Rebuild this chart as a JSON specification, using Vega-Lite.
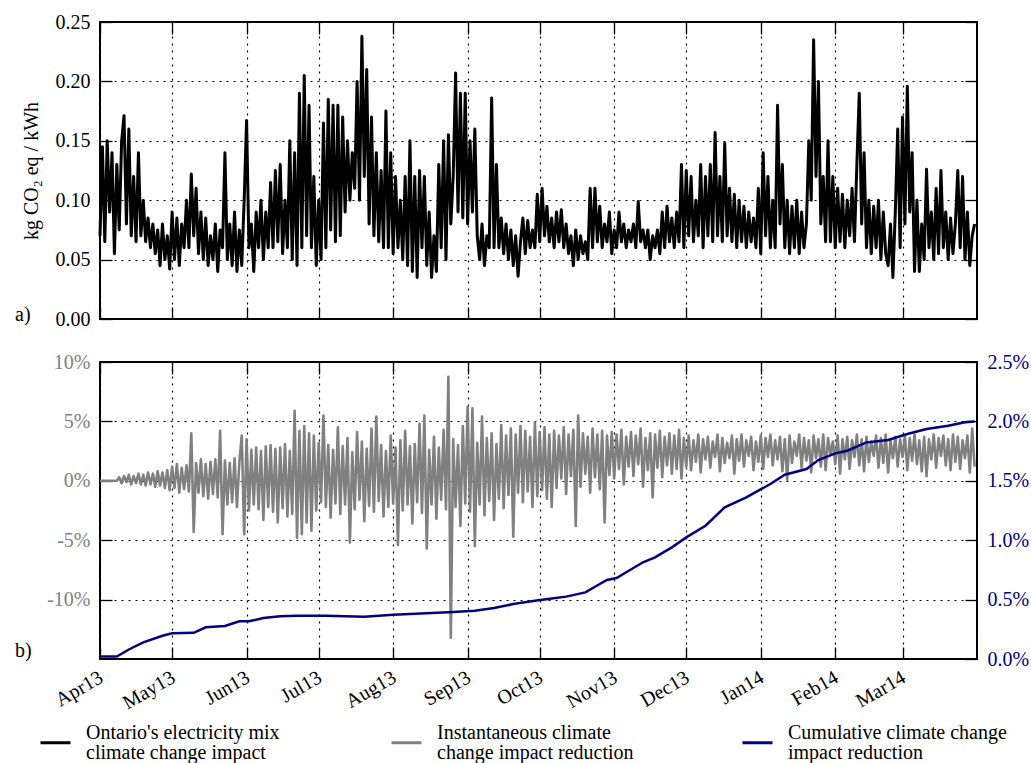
{
"$schema": "https://vega.github.io/schema/vega-lite/v6.json",
"background": "white",
"padding": {"left": 14, "top": 11, "right": 5, "bottom": 2},
"config": {
  "font": "Liberation Serif",
  "view": {"stroke": "black", "strokeWidth": 2},
  "title": {"fontSize": 20, "fontWeight": "normal", "color": "black"},
  "style": {"guide-label": {"lineHeight": 20}},
  "axis": {"labelFontSize": 20, "titleFontSize": 20, "titleFontWeight": "normal", "labelColor": "black", "titleColor": "black", "tickColor": "black", "tickSize": -12, "tickWidth": 1.3, "domain": false, "gridColor": "black", "gridDash": [2, 5], "gridWidth": 1.2, "gridOpacity": 1, "labelPadding": 22}
},
"spacing": 21,
"resolve": {"scale": {"color": "shared"}, "legend": {"color": "shared"}},
"datasets": {
"d": [
{"t":"2013-04-01","v":0.07,"g":0},{"t":"2013-04-02","v":0.145,"g":0},{"t":"2013-04-03","v":0.065,"g":0},{"t":"2013-04-04","v":0.15,"g":0},{"t":"2013-04-05","v":0.09,"g":0},{"t":"2013-04-06","v":0.14,"g":0},{"t":"2013-04-07","v":0.055,"g":0},{"t":"2013-04-08","v":0.13,"g":0},{"t":"2013-04-09","v":0.075,"g":0.3},{"t":"2013-04-10","v":0.15,"g":-0.2},{"t":"2013-04-11","v":0.171,"g":0.4},{"t":"2013-04-12","v":0.08,"g":-0.1},{"t":"2013-04-13","v":0.16,"g":0.5},{"t":"2013-04-14","v":0.07,"g":-0.3},{"t":"2013-04-15","v":0.12,"g":0.4},{"t":"2013-04-16","v":0.065,"g":-0.2},{"t":"2013-04-17","v":0.14,"g":0.6},{"t":"2013-04-18","v":0.07,"g":-0.3},{"t":"2013-04-19","v":0.10,"g":0.5},{"t":"2013-04-20","v":0.065,"g":-0.4},{"t":"2013-04-21","v":0.085,"g":0.7},{"t":"2013-04-22","v":0.06,"g":-0.3},{"t":"2013-04-23","v":0.08,"g":0.6},{"t":"2013-04-24","v":0.055,"g":-0.5},{"t":"2013-04-25","v":0.075,"g":0.8},{"t":"2013-04-26","v":0.045,"g":-0.4},{"t":"2013-04-27","v":0.08,"g":0.7},{"t":"2013-04-28","v":0.05,"g":-0.6},{"t":"2013-04-29","v":0.07,"g":0.9},{"t":"2013-04-30","v":0.042,"g":-0.8},
{"t":"2013-05-01","v":0.09,"g":1.2},{"t":"2013-05-02","v":0.05,"g":-0.6},{"t":"2013-05-03","v":0.085,"g":1.4},{"t":"2013-05-04","v":0.045,"g":-1.0},{"t":"2013-05-05","v":0.08,"g":1.1},{"t":"2013-05-06","v":0.06,"g":-0.7},{"t":"2013-05-07","v":0.10,"g":1.3},{"t":"2013-05-08","v":0.06,"g":-0.9},{"t":"2013-05-09","v":0.122,"g":4.0},{"t":"2013-05-10","v":0.07,"g":-4.3},{"t":"2013-05-11","v":0.11,"g":1.5},{"t":"2013-05-12","v":0.055,"g":-1.0},{"t":"2013-05-13","v":0.09,"g":1.8},{"t":"2013-05-14","v":0.05,"g":-1.3},{"t":"2013-05-15","v":0.085,"g":1.4},{"t":"2013-05-16","v":0.045,"g":-1.5},{"t":"2013-05-17","v":0.07,"g":1.6},{"t":"2013-05-18","v":0.05,"g":-1.1},{"t":"2013-05-19","v":0.08,"g":1.8},{"t":"2013-05-20","v":0.04,"g":-1.4},{"t":"2013-05-21","v":0.075,"g":4.2},{"t":"2013-05-22","v":0.06,"g":-4.5},{"t":"2013-05-23","v":0.14,"g":1.7},{"t":"2013-05-24","v":0.05,"g":-2.0},{"t":"2013-05-25","v":0.08,"g":1.5},{"t":"2013-05-26","v":0.045,"g":-1.8},{"t":"2013-05-27","v":0.09,"g":1.9},{"t":"2013-05-28","v":0.04,"g":-2.2},{"t":"2013-05-29","v":0.075,"g":1.6},{"t":"2013-05-30","v":0.045,"g":3.8},{"t":"2013-05-31","v":0.10,"g":-4.5},
{"t":"2013-06-01","v":0.167,"g":3.5},{"t":"2013-06-02","v":0.06,"g":-2.5},{"t":"2013-06-03","v":0.08,"g":2.6},{"t":"2013-06-04","v":0.04,"g":-2.0},{"t":"2013-06-05","v":0.09,"g":2.8},{"t":"2013-06-06","v":0.06,"g":-2.4},{"t":"2013-06-07","v":0.10,"g":2.5},{"t":"2013-06-08","v":0.05,"g":-3.3},{"t":"2013-06-09","v":0.09,"g":2.9},{"t":"2013-06-10","v":0.06,"g":-2.2},{"t":"2013-06-11","v":0.115,"g":3.0},{"t":"2013-06-12","v":0.06,"g":-2.6},{"t":"2013-06-13","v":0.125,"g":2.7},{"t":"2013-06-14","v":0.065,"g":-3.5},{"t":"2013-06-15","v":0.13,"g":2.8},{"t":"2013-06-16","v":0.055,"g":-2.3},{"t":"2013-06-17","v":0.10,"g":3.1},{"t":"2013-06-18","v":0.06,"g":-3.0},{"t":"2013-06-19","v":0.15,"g":2.5},{"t":"2013-06-20","v":0.05,"g":-2.8},{"t":"2013-06-21","v":0.14,"g":5.9},{"t":"2013-06-22","v":0.045,"g":-4.8},{"t":"2013-06-23","v":0.19,"g":4.2},{"t":"2013-06-24","v":0.06,"g":-4.5},{"t":"2013-06-25","v":0.205,"g":4.6},{"t":"2013-06-26","v":0.07,"g":-3.5},{"t":"2013-06-27","v":0.18,"g":4.0},{"t":"2013-06-28","v":0.06,"g":-4.2},{"t":"2013-06-29","v":0.12,"g":3.8},{"t":"2013-06-30","v":0.045,"g":-2.5},
{"t":"2013-07-01","v":0.10,"g":3.2},{"t":"2013-07-02","v":0.05,"g":-1.8},{"t":"2013-07-03","v":0.165,"g":5.5},{"t":"2013-07-04","v":0.06,"g":-2.2},{"t":"2013-07-05","v":0.185,"g":3.0},{"t":"2013-07-06","v":0.075,"g":-3.1},{"t":"2013-07-07","v":0.18,"g":2.6},{"t":"2013-07-08","v":0.065,"g":-1.9},{"t":"2013-07-09","v":0.18,"g":4.5},{"t":"2013-07-10","v":0.07,"g":-2.8},{"t":"2013-07-11","v":0.17,"g":2.9},{"t":"2013-07-12","v":0.09,"g":-2.0},{"t":"2013-07-13","v":0.15,"g":3.6},{"t":"2013-07-14","v":0.10,"g":-5.2},{"t":"2013-07-15","v":0.14,"g":2.4},{"t":"2013-07-16","v":0.11,"g":-2.4},{"t":"2013-07-17","v":0.20,"g":4.1},{"t":"2013-07-18","v":0.10,"g":-1.6},{"t":"2013-07-19","v":0.238,"g":3.3},{"t":"2013-07-20","v":0.12,"g":-3.4},{"t":"2013-07-21","v":0.21,"g":2.7},{"t":"2013-07-22","v":0.08,"g":-2.1},{"t":"2013-07-23","v":0.17,"g":4.4},{"t":"2013-07-24","v":0.07,"g":-2.6},{"t":"2013-07-25","v":0.14,"g":5.4},{"t":"2013-07-26","v":0.065,"g":-1.7},{"t":"2013-07-27","v":0.125,"g":3.0},{"t":"2013-07-28","v":0.06,"g":-3.0},{"t":"2013-07-29","v":0.175,"g":2.5},{"t":"2013-07-30","v":0.06,"g":-2.2},{"t":"2013-07-31","v":0.14,"g":3.8},
{"t":"2013-08-01","v":0.055,"g":-1.9},{"t":"2013-08-02","v":0.12,"g":2.8},{"t":"2013-08-03","v":0.06,"g":-5.4},{"t":"2013-08-04","v":0.10,"g":3.4},{"t":"2013-08-05","v":0.05,"g":-2.5},{"t":"2013-08-06","v":0.12,"g":4.2},{"t":"2013-08-07","v":0.045,"g":-2.0},{"t":"2013-08-08","v":0.15,"g":2.9},{"t":"2013-08-09","v":0.04,"g":-3.6},{"t":"2013-08-10","v":0.12,"g":3.1},{"t":"2013-08-11","v":0.035,"g":-1.8},{"t":"2013-08-12","v":0.125,"g":4.8},{"t":"2013-08-13","v":0.06,"g":-2.7},{"t":"2013-08-14","v":0.12,"g":5.5},{"t":"2013-08-15","v":0.045,"g":-5.7},{"t":"2013-08-16","v":0.09,"g":2.6},{"t":"2013-08-17","v":0.035,"g":-2.0},{"t":"2013-08-18","v":0.07,"g":3.7},{"t":"2013-08-19","v":0.04,"g":-3.2},{"t":"2013-08-20","v":0.13,"g":2.8},{"t":"2013-08-21","v":0.06,"g":-1.6},{"t":"2013-08-22","v":0.15,"g":4.3},{"t":"2013-08-23","v":0.05,"g":-2.4},{"t":"2013-08-24","v":0.155,"g":8.75},{"t":"2013-08-25","v":0.08,"g":-13.2},{"t":"2013-08-26","v":0.12,"g":3.5},{"t":"2013-08-27","v":0.207,"g":-2.2},{"t":"2013-08-28","v":0.09,"g":3.0},{"t":"2013-08-29","v":0.19,"g":-3.8},{"t":"2013-08-30","v":0.085,"g":4.6},{"t":"2013-08-31","v":0.19,"g":-1.9},
{"t":"2013-09-01","v":0.08,"g":6.2},{"t":"2013-09-02","v":0.15,"g":-2.6},{"t":"2013-09-03","v":0.09,"g":6.1},{"t":"2013-09-04","v":0.16,"g":-5.5},{"t":"2013-09-05","v":0.07,"g":3.2},{"t":"2013-09-06","v":0.05,"g":-2.0},{"t":"2013-09-07","v":0.08,"g":5.4},{"t":"2013-09-08","v":0.045,"g":-2.9},{"t":"2013-09-09","v":0.07,"g":3.6},{"t":"2013-09-10","v":0.06,"g":-1.7},{"t":"2013-09-11","v":0.186,"g":4.0},{"t":"2013-09-12","v":0.06,"g":-3.3},{"t":"2013-09-13","v":0.13,"g":3.1},{"t":"2013-09-14","v":0.06,"g":-1.5},{"t":"2013-09-15","v":0.085,"g":4.7},{"t":"2013-09-16","v":0.055,"g":-2.3},{"t":"2013-09-17","v":0.08,"g":3.8},{"t":"2013-09-18","v":0.05,"g":-1.2},{"t":"2013-09-19","v":0.075,"g":4.4},{"t":"2013-09-20","v":0.045,"g":-4.7},{"t":"2013-09-21","v":0.07,"g":3.9},{"t":"2013-09-22","v":0.036,"g":-1.0},{"t":"2013-09-23","v":0.065,"g":4.6},{"t":"2013-09-24","v":0.085,"g":-1.8},{"t":"2013-09-25","v":0.055,"g":4.2},{"t":"2013-09-26","v":0.083,"g":-0.9},{"t":"2013-09-27","v":0.06,"g":3.7},{"t":"2013-09-28","v":0.075,"g":-2.2},{"t":"2013-09-29","v":0.06,"g":4.9},{"t":"2013-09-30","v":0.105,"g":-1.3},
{"t":"2013-10-01","v":0.065,"g":4.1},{"t":"2013-10-02","v":0.11,"g":-0.8},{"t":"2013-10-03","v":0.07,"g":4.5},{"t":"2013-10-04","v":0.095,"g":-1.5},{"t":"2013-10-05","v":0.065,"g":3.9},{"t":"2013-10-06","v":0.085,"g":-2.2},{"t":"2013-10-07","v":0.06,"g":4.2},{"t":"2013-10-08","v":0.09,"g":-0.6},{"t":"2013-10-09","v":0.065,"g":3.8},{"t":"2013-10-10","v":0.092,"g":0.2},{"t":"2013-10-11","v":0.06,"g":4.5},{"t":"2013-10-12","v":0.08,"g":-1.1},{"t":"2013-10-13","v":0.055,"g":3.9},{"t":"2013-10-14","v":0.07,"g":0.4},{"t":"2013-10-15","v":0.045,"g":4.3},{"t":"2013-10-16","v":0.075,"g":-3.8},{"t":"2013-10-17","v":0.05,"g":5.5},{"t":"2013-10-18","v":0.07,"g":-0.5},{"t":"2013-10-19","v":0.055,"g":4.0},{"t":"2013-10-20","v":0.065,"g":0.6},{"t":"2013-10-21","v":0.05,"g":3.7},{"t":"2013-10-22","v":0.11,"g":-1.0},{"t":"2013-10-23","v":0.06,"g":4.4},{"t":"2013-10-24","v":0.11,"g":0.3},{"t":"2013-10-25","v":0.065,"g":3.9},{"t":"2013-10-26","v":0.095,"g":-0.7},{"t":"2013-10-27","v":0.06,"g":4.2},{"t":"2013-10-28","v":0.08,"g":-3.5},{"t":"2013-10-29","v":0.065,"g":3.8},{"t":"2013-10-30","v":0.09,"g":0.5},{"t":"2013-10-31","v":0.055,"g":4.1},
{"t":"2013-11-01","v":0.075,"g":0.2},{"t":"2013-11-02","v":0.06,"g":3.9},{"t":"2013-11-03","v":0.09,"g":1.0},{"t":"2013-11-04","v":0.065,"g":4.3},{"t":"2013-11-05","v":0.08,"g":-0.3},{"t":"2013-11-06","v":0.06,"g":3.7},{"t":"2013-11-07","v":0.075,"g":1.2},{"t":"2013-11-08","v":0.065,"g":4.1},{"t":"2013-11-09","v":0.08,"g":0.4},{"t":"2013-11-10","v":0.06,"g":3.8},{"t":"2013-11-11","v":0.099,"g":1.4},{"t":"2013-11-12","v":0.065,"g":4.4},{"t":"2013-11-13","v":0.075,"g":-0.5},{"t":"2013-11-14","v":0.06,"g":3.6},{"t":"2013-11-15","v":0.075,"g":0.9},{"t":"2013-11-16","v":0.05,"g":4.0},{"t":"2013-11-17","v":0.07,"g":-1.4},{"t":"2013-11-18","v":0.06,"g":3.9},{"t":"2013-11-19","v":0.075,"g":1.1},{"t":"2013-11-20","v":0.055,"g":4.2},{"t":"2013-11-21","v":0.09,"g":0.3},{"t":"2013-11-22","v":0.06,"g":3.7},{"t":"2013-11-23","v":0.095,"g":1.3},{"t":"2013-11-24","v":0.065,"g":4.0},{"t":"2013-11-25","v":0.085,"g":0.6},{"t":"2013-11-26","v":0.06,"g":3.8},{"t":"2013-11-27","v":0.09,"g":1.0},{"t":"2013-11-28","v":0.065,"g":4.3},{"t":"2013-11-29","v":0.13,"g":0.2},{"t":"2013-11-30","v":0.06,"g":3.6},
{"t":"2013-12-01","v":0.125,"g":1.2},{"t":"2013-12-02","v":0.07,"g":3.8},{"t":"2013-12-03","v":0.12,"g":0.9},{"t":"2013-12-04","v":0.065,"g":3.4},{"t":"2013-12-05","v":0.1,"g":1.6},{"t":"2013-12-06","v":0.07,"g":3.9},{"t":"2013-12-07","v":0.13,"g":0.7},{"t":"2013-12-08","v":0.06,"g":3.5},{"t":"2013-12-09","v":0.12,"g":1.8},{"t":"2013-12-10","v":0.07,"g":3.7},{"t":"2013-12-11","v":0.13,"g":1.1},{"t":"2013-12-12","v":0.065,"g":3.3},{"t":"2013-12-13","v":0.157,"g":2.0},{"t":"2013-12-14","v":0.07,"g":3.9},{"t":"2013-12-15","v":0.12,"g":0.8},{"t":"2013-12-16","v":0.065,"g":3.6},{"t":"2013-12-17","v":0.148,"g":1.5},{"t":"2013-12-18","v":0.07,"g":3.2},{"t":"2013-12-19","v":0.11,"g":1.9},{"t":"2013-12-20","v":0.065,"g":3.8},{"t":"2013-12-21","v":0.105,"g":0.6},{"t":"2013-12-22","v":0.06,"g":3.5},{"t":"2013-12-23","v":0.1,"g":1.7},{"t":"2013-12-24","v":0.065,"g":3.9},{"t":"2013-12-25","v":0.095,"g":1.2},{"t":"2013-12-26","v":0.06,"g":3.4},{"t":"2013-12-27","v":0.09,"g":2.1},{"t":"2013-12-28","v":0.065,"g":3.7},{"t":"2013-12-29","v":0.085,"g":0.9},{"t":"2013-12-30","v":0.06,"g":3.3},{"t":"2013-12-31","v":0.11,"g":1.6},
{"t":"2014-01-01","v":0.055,"g":3.8},{"t":"2014-01-02","v":0.14,"g":1.0},{"t":"2014-01-03","v":0.07,"g":3.6},{"t":"2014-01-04","v":0.12,"g":2.0},{"t":"2014-01-05","v":0.06,"g":3.9},{"t":"2014-01-06","v":0.1,"g":1.3},{"t":"2014-01-07","v":0.06,"g":3.4},{"t":"2014-01-08","v":0.18,"g":1.8},{"t":"2014-01-09","v":0.08,"g":3.7},{"t":"2014-01-10","v":0.13,"g":0.8},{"t":"2014-01-11","v":0.06,"g":3.5},{"t":"2014-01-12","v":0.1,"g":0.1},{"t":"2014-01-13","v":0.055,"g":3.8},{"t":"2014-01-14","v":0.095,"g":1.5},{"t":"2014-01-15","v":0.06,"g":3.3},{"t":"2014-01-16","v":0.1,"g":2.1},{"t":"2014-01-17","v":0.055,"g":3.9},{"t":"2014-01-18","v":0.09,"g":1.1},{"t":"2014-01-19","v":0.06,"g":3.6},{"t":"2014-01-20","v":0.08,"g":1.7},{"t":"2014-01-21","v":0.15,"g":3.4},{"t":"2014-01-22","v":0.1,"g":0.7},{"t":"2014-01-23","v":0.235,"g":3.8},{"t":"2014-01-24","v":0.12,"g":1.9},{"t":"2014-01-25","v":0.2,"g":3.5},{"t":"2014-01-26","v":0.08,"g":1.2},{"t":"2014-01-27","v":0.12,"g":3.9},{"t":"2014-01-28","v":0.065,"g":0.9},{"t":"2014-01-29","v":0.15,"g":3.6},{"t":"2014-01-30","v":0.065,"g":2.2},{"t":"2014-01-31","v":0.12,"g":3.3},
{"t":"2014-02-01","v":0.06,"g":1.4},{"t":"2014-02-02","v":0.11,"g":3.8},{"t":"2014-02-03","v":0.065,"g":0.6},{"t":"2014-02-04","v":0.105,"g":3.5},{"t":"2014-02-05","v":0.06,"g":1.8},{"t":"2014-02-06","v":0.1,"g":3.7},{"t":"2014-02-07","v":0.07,"g":1.0},{"t":"2014-02-08","v":0.11,"g":3.4},{"t":"2014-02-09","v":0.065,"g":2.0},{"t":"2014-02-10","v":0.13,"g":3.9},{"t":"2014-02-11","v":0.19,"g":1.3},{"t":"2014-02-12","v":0.08,"g":3.5},{"t":"2014-02-13","v":0.14,"g":0.8},{"t":"2014-02-14","v":0.06,"g":3.7},{"t":"2014-02-15","v":0.1,"g":1.6},{"t":"2014-02-16","v":0.055,"g":3.3},{"t":"2014-02-17","v":0.095,"g":2.1},{"t":"2014-02-18","v":0.06,"g":3.8},{"t":"2014-02-19","v":0.1,"g":1.1},{"t":"2014-02-20","v":0.05,"g":3.6},{"t":"2014-02-21","v":0.09,"g":1.5},{"t":"2014-02-22","v":0.055,"g":3.9},{"t":"2014-02-23","v":0.045,"g":0.7},{"t":"2014-02-24","v":0.08,"g":3.4},{"t":"2014-02-25","v":0.035,"g":1.9},{"t":"2014-02-26","v":0.09,"g":3.7},{"t":"2014-02-27","v":0.16,"g":1.2},{"t":"2014-02-28","v":0.06,"g":3.5},
{"t":"2014-03-01","v":0.17,"g":2.0},{"t":"2014-03-02","v":0.08,"g":3.8},{"t":"2014-03-03","v":0.196,"g":0.9},{"t":"2014-03-04","v":0.09,"g":3.6},{"t":"2014-03-05","v":0.14,"g":1.7},{"t":"2014-03-06","v":0.04,"g":3.9},{"t":"2014-03-07","v":0.1,"g":1.4},{"t":"2014-03-08","v":0.04,"g":3.4},{"t":"2014-03-09","v":0.08,"g":0.8},{"t":"2014-03-10","v":0.05,"g":3.7},{"t":"2014-03-11","v":0.126,"g":0.4},{"t":"2014-03-12","v":0.06,"g":3.5},{"t":"2014-03-13","v":0.09,"g":1.8},{"t":"2014-03-14","v":0.05,"g":3.9},{"t":"2014-03-15","v":0.11,"g":1.1},{"t":"2014-03-16","v":0.055,"g":3.6},{"t":"2014-03-17","v":0.125,"g":2.1},{"t":"2014-03-18","v":0.06,"g":3.8},{"t":"2014-03-19","v":0.09,"g":1.3},{"t":"2014-03-20","v":0.05,"g":3.5},{"t":"2014-03-21","v":0.085,"g":0.9},{"t":"2014-03-22","v":0.055,"g":3.9},{"t":"2014-03-23","v":0.08,"g":1.6},{"t":"2014-03-24","v":0.125,"g":3.7},{"t":"2014-03-25","v":0.06,"g":1.0},{"t":"2014-03-26","v":0.12,"g":3.4},{"t":"2014-03-27","v":0.05,"g":1.9},{"t":"2014-03-28","v":0.09,"g":3.8},{"t":"2014-03-29","v":0.045,"g":0.7},{"t":"2014-03-30","v":0.07,"g":4.4},{"t":"2014-03-31","v":0.08,"g":1.2}
],
"c": [
{"t":"2013-04-01","c":0.02},{"t":"2013-04-08","c":0.02},{"t":"2013-04-13","c":0.08},{"t":"2013-04-19","c":0.14},{"t":"2013-04-27","c":0.196},{"t":"2013-05-01","c":0.216},{"t":"2013-05-10","c":0.22},{"t":"2013-05-15","c":0.267},{"t":"2013-05-23","c":0.278},{"t":"2013-05-29","c":0.317},{"t":"2013-06-02","c":0.317},{"t":"2013-06-08","c":0.345},{"t":"2013-06-15","c":0.36},{"t":"2013-06-22","c":0.365},{"t":"2013-07-04","c":0.365},{"t":"2013-07-20","c":0.355},{"t":"2013-08-01","c":0.373},{"t":"2013-08-24","c":0.393},{"t":"2013-09-04","c":0.407},{"t":"2013-09-12","c":0.429},{"t":"2013-09-20","c":0.463},{"t":"2013-09-29","c":0.491},{"t":"2013-10-06","c":0.51},{"t":"2013-10-12","c":0.525},{"t":"2013-10-20","c":0.561},{"t":"2013-10-26","c":0.631},{"t":"2013-10-29","c":0.665},{"t":"2013-11-02","c":0.682},{"t":"2013-11-06","c":0.73},{"t":"2013-11-13","c":0.814},{"t":"2013-11-18","c":0.856},{"t":"2013-11-25","c":0.94},{"t":"2013-12-01","c":1.024},{"t":"2013-12-09","c":1.122},{"t":"2013-12-17","c":1.277},{"t":"2013-12-26","c":1.361},{"t":"2013-12-31","c":1.417},{"t":"2014-01-05","c":1.473},{"t":"2014-01-11","c":1.551},{"t":"2014-01-20","c":1.599},{"t":"2014-01-25","c":1.675},{"t":"2014-02-01","c":1.731},{"t":"2014-02-06","c":1.753},{"t":"2014-02-14","c":1.823},{"t":"2014-02-23","c":1.843},{"t":"2014-03-03","c":1.894},{"t":"2014-03-11","c":1.936},{"t":"2014-03-20","c":1.964},{"t":"2014-03-27","c":1.992},{"t":"2014-03-31","c":2.0}
]
},
"vconcat": [
{
  "width": 877, "height": 297,
  "title": {"text": "a)", "orient": "bottom", "anchor": "start", "frame": "group", "dx": -85, "dy": -24, "offset": 0},
  "layer": [
    {"data": {"name": "d"}, "mark": {"type": "line", "strokeWidth": 3, "strokeJoin": "round"},
     "encoding": {
       "x": {"field": "t", "type": "temporal",
             "scale": {"type": "utc", "domain": [{"year": 2013, "month": 4, "date": 1, "utc": true}, {"year": 2014, "month": 4, "date": 1, "utc": true}]},
             "axis": {"orient": "bottom", "labels": false, "grid": true, "title": null,
                      "values": [{"year":2013,"month":4,"date":1,"utc":true},{"year":2013,"month":5,"date":1,"utc":true},{"year":2013,"month":6,"date":1,"utc":true},{"year":2013,"month":7,"date":1,"utc":true},{"year":2013,"month":8,"date":1,"utc":true},{"year":2013,"month":9,"date":1,"utc":true},{"year":2013,"month":10,"date":1,"utc":true},{"year":2013,"month":11,"date":1,"utc":true},{"year":2013,"month":12,"date":1,"utc":true},{"year":2014,"month":1,"date":1,"utc":true},{"year":2014,"month":2,"date":1,"utc":true},{"year":2014,"month":3,"date":1,"utc":true}]}},
       "y": {"field": "v", "type": "quantitative", "scale": {"domain": [0, 0.25]},
             "axis": {"orient": "left", "values": [0, 0.05, 0.1, 0.15, 0.2, 0.25], "format": ".2f", "title": "kg CO₂ eq / kWh", "titlePadding": 14, "grid": true}},
       "color": {"datum": "Ontario's electricity mix\nclimate change impact",
                 "scale": {"domain": ["Ontario's electricity mix\nclimate change impact", "Instantaneous climate\nchange impact reduction", "Cumulative climate change\nimpact reduction"], "range": ["#000000", "#808080", "#000080"]},
                 "legend": {"orient": "none", "legendX": -61, "legendY": 694, "direction": "horizontal", "columns": 3, "gridAlign": "all", "columnPadding": 80, "symbolType": "M-1,0.667H1", "symbolSize": 900, "symbolStrokeWidth": 3, "labelFontSize": 20, "labelOffset": 14, "labelLimit": 0, "labelExpr": "split(datum.label, '\\n')", "title": null}}
     }},
    {"data": {"name": "d"}, "mark": {"type": "line", "opacity": 0},
     "encoding": {
       "x": {"field": "t", "type": "temporal",
             "scale": {"type": "utc", "domain": [{"year": 2013, "month": 4, "date": 1, "utc": true}, {"year": 2014, "month": 4, "date": 1, "utc": true}]},
             "axis": {"orient": "top", "labels": false, "grid": false, "title": null,
                      "values": [{"year":2013,"month":4,"date":1,"utc":true},{"year":2013,"month":5,"date":1,"utc":true},{"year":2013,"month":6,"date":1,"utc":true},{"year":2013,"month":7,"date":1,"utc":true},{"year":2013,"month":8,"date":1,"utc":true},{"year":2013,"month":9,"date":1,"utc":true},{"year":2013,"month":10,"date":1,"utc":true},{"year":2013,"month":11,"date":1,"utc":true},{"year":2013,"month":12,"date":1,"utc":true},{"year":2014,"month":1,"date":1,"utc":true},{"year":2014,"month":2,"date":1,"utc":true},{"year":2014,"month":3,"date":1,"utc":true}]}},
       "y": {"field": "v", "type": "quantitative", "scale": {"domain": [0, 0.25]},
             "axis": {"orient": "right", "labels": false, "grid": false, "title": null, "values": [0, 0.05, 0.1, 0.15, 0.2, 0.25]}}
     }}
  ],
  "resolve": {"axis": {"x": "independent", "y": "independent"}}
},
{
  "width": 877, "height": 297,
  "title": {"text": "b)", "orient": "bottom", "anchor": "start", "frame": "group", "dx": -85, "dy": -72, "offset": 0},
  "layer": [
    {"data": {"name": "d"}, "mark": {"type": "line", "strokeWidth": 2.6, "strokeJoin": "round"},
     "encoding": {
       "x": {"field": "t", "type": "temporal",
             "scale": {"type": "utc", "domain": [{"year": 2013, "month": 4, "date": 1, "utc": true}, {"year": 2014, "month": 4, "date": 1, "utc": true}]},
             "axis": {"orient": "bottom", "grid": true, "title": null, "labelExpr": "utcFormat(datum.value, '%b%y')", "labelAngle": -30, "labelAlign": "right", "labelBaseline": "top", "labelPadding": 20, "labelOffset": -4,
                      "values": [{"year":2013,"month":4,"date":1,"utc":true},{"year":2013,"month":5,"date":1,"utc":true},{"year":2013,"month":6,"date":1,"utc":true},{"year":2013,"month":7,"date":1,"utc":true},{"year":2013,"month":8,"date":1,"utc":true},{"year":2013,"month":9,"date":1,"utc":true},{"year":2013,"month":10,"date":1,"utc":true},{"year":2013,"month":11,"date":1,"utc":true},{"year":2013,"month":12,"date":1,"utc":true},{"year":2014,"month":1,"date":1,"utc":true},{"year":2014,"month":2,"date":1,"utc":true},{"year":2014,"month":3,"date":1,"utc":true}]}},
       "y": {"field": "g", "type": "quantitative", "scale": {"domain": [-15, 10]},
             "axis": {"orient": "left", "values": [-10, -5, 0, 5, 10], "labelExpr": "datum.value + '%'", "labelColor": "#808080", "title": null, "grid": true}},
       "color": {"datum": "Instantaneous climate\nchange impact reduction",
                 "scale": {"domain": ["Ontario's electricity mix\nclimate change impact", "Instantaneous climate\nchange impact reduction", "Cumulative climate change\nimpact reduction"], "range": ["#000000", "#808080", "#000080"]},
                 "legend": {"orient": "none", "legendX": -61, "legendY": 694, "direction": "horizontal", "columns": 3, "gridAlign": "all", "columnPadding": 80, "symbolType": "M-1,0.667H1", "symbolSize": 900, "symbolStrokeWidth": 3, "labelFontSize": 20, "labelOffset": 14, "labelLimit": 0, "labelExpr": "split(datum.label, '\\n')", "title": null}}
     }},
    {"data": {"name": "c"}, "mark": {"type": "line", "strokeWidth": 2.5},
     "encoding": {
       "x": {"field": "t", "type": "temporal",
             "scale": {"type": "utc", "domain": [{"year": 2013, "month": 4, "date": 1, "utc": true}, {"year": 2014, "month": 4, "date": 1, "utc": true}]},
             "axis": {"orient": "top", "labels": false, "grid": false, "title": null,
                      "values": [{"year":2013,"month":4,"date":1,"utc":true},{"year":2013,"month":5,"date":1,"utc":true},{"year":2013,"month":6,"date":1,"utc":true},{"year":2013,"month":7,"date":1,"utc":true},{"year":2013,"month":8,"date":1,"utc":true},{"year":2013,"month":9,"date":1,"utc":true},{"year":2013,"month":10,"date":1,"utc":true},{"year":2013,"month":11,"date":1,"utc":true},{"year":2013,"month":12,"date":1,"utc":true},{"year":2014,"month":1,"date":1,"utc":true},{"year":2014,"month":2,"date":1,"utc":true},{"year":2014,"month":3,"date":1,"utc":true}]}},
       "y": {"field": "c", "type": "quantitative", "scale": {"domain": [0, 2.5]},
             "axis": {"orient": "right", "values": [0, 0.5, 1, 1.5, 2, 2.5], "labelExpr": "format(datum.value, '.1f') + '%'", "labelColor": "#000080", "title": null, "grid": false}},
       "color": {"datum": "Cumulative climate change\nimpact reduction",
                 "scale": {"domain": ["Ontario's electricity mix\nclimate change impact", "Instantaneous climate\nchange impact reduction", "Cumulative climate change\nimpact reduction"], "range": ["#000000", "#808080", "#000080"]},
                 "legend": {"orient": "none", "legendX": -61, "legendY": 694, "direction": "horizontal", "columns": 3, "gridAlign": "all", "columnPadding": 80, "symbolType": "M-1,0.667H1", "symbolSize": 900, "symbolStrokeWidth": 3, "labelFontSize": 20, "labelOffset": 14, "labelLimit": 0, "labelExpr": "split(datum.label, '\\n')", "title": null}}
     }}
  ],
  "resolve": {"scale": {"y": "independent"}, "axis": {"x": "independent", "y": "independent"}}
}
]
}
